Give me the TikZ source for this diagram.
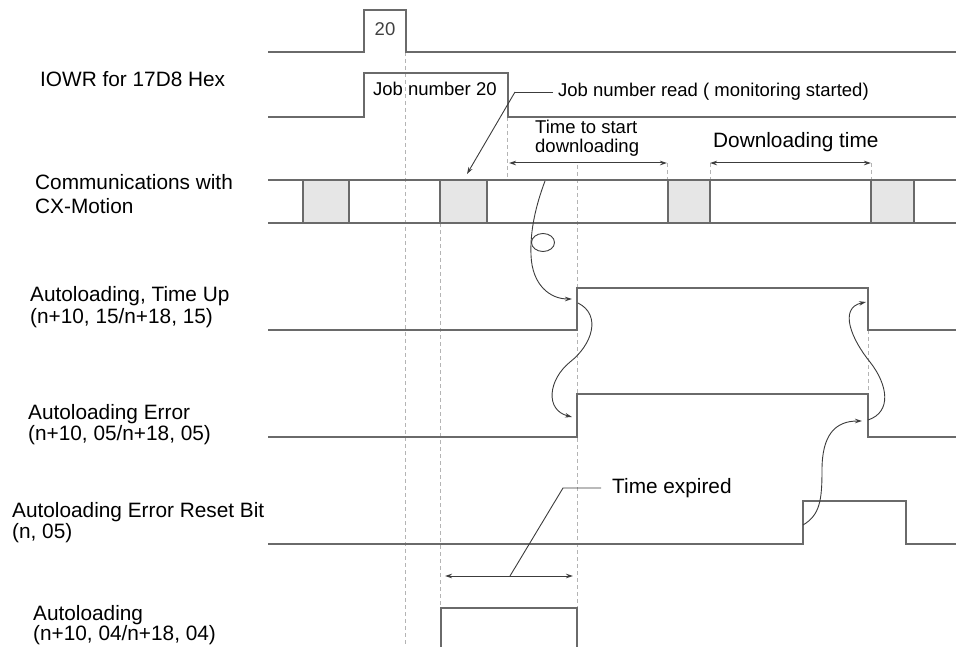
\documentclass[tikz,border=0pt]{standalone}
\usepackage{fontspec}
\setmainfont{Liberation Sans}
\usetikzlibrary{arrows.meta}
\definecolor{sigcol}{HTML}{6A6A6A}
\definecolor{boxfill}{HTML}{E6E6E6}
\definecolor{guidecol}{HTML}{B4B4B4}
\definecolor{arrcol}{HTML}{3C3C3C}
\tikzset{
  sig/.style={draw=sigcol, line width=1.4pt, line join=miter},
  guide/.style={draw=guidecol, line width=0.8pt, dash pattern=on 4pt off 3pt},
  cause/.style={draw=arrcol, line width=0.9pt, -{Stealth[length=7pt,width=4.5pt]}},
  dimline/.style={draw=arrcol, line width=1pt, {Stealth[length=7pt,width=4.5pt]}-{Stealth[length=7pt,width=4.5pt]}},
  leader/.style={draw=arrcol, line width=0.9pt},
  lbl/.style={anchor=base west, inner sep=0pt, font=\fontsize{20.8}{24}\selectfont},
  smalllbl/.style={anchor=base west, inner sep=0pt, font=\fontsize{18.5}{22}\selectfont}
}
\begin{document}
\begin{tikzpicture}[x=1pt, y=-1pt]
\useasboundingbox (0,0) rectangle (956,647);

% ---------- guide (dashed) lines ----------
\draw[guide] (405,52) -- (405,647);
\draw[guide] (507,117) -- (507,180);
\draw[guide] (577,165) -- (577,647);
\draw[guide] (440,223) -- (440,647);
\draw[guide] (667,163) -- (667,180);
\draw[guide] (710,163) -- (710,180);
\draw[guide] (871,163) -- (871,180);
\draw[guide] (868,330) -- (868,394);

% ---------- communication row ----------
\fill[boxfill] (303,180) rectangle (349,223);
\fill[boxfill] (440,180) rectangle (487,223);
\fill[boxfill] (668,180) rectangle (710,223);
\fill[boxfill] (871,180) rectangle (914,223);
\draw[sig] (268,180) -- (956,180);
\draw[sig] (268,223) -- (956,223);
\foreach \xx in {303,349,440,487,668,710,871,914}
  \draw[sig] (\xx,180) -- (\xx,223);

% ---------- signals ----------
\draw[sig] (268,52) -- (364,52) -- (364,10) -- (406,10) -- (406,52) -- (956,52);
\draw[sig] (268,117) -- (364,117) -- (364,73) -- (508,73) -- (508,117) -- (956,117);
\draw[sig] (268,330) -- (577,330) -- (577,288) -- (868,288) -- (868,330) -- (956,330);
\draw[sig] (268,437) -- (577,437) -- (577,394) -- (868,394) -- (868,437) -- (956,437);
\draw[sig] (268,544) -- (803,544) -- (803,501) -- (906,501) -- (906,544) -- (956,544);
\draw[sig] (441,647) -- (441,608) -- (577,608) -- (577,647);

% ---------- texts ----------
\node[smalllbl, anchor=base, text=black!75] (v20) at (385,36) {20};
\node[lbl] (l1) at (40,87) {IOWR for 17D8 Hex};
\node[smalllbl] (job20) at (373,96) {Job number 20};
\node[smalllbl] (jobread) at (558,97) {Job number read ( monitoring started)};
\node[smalllbl] (tts1) at (535,134) {Time to start};
\node[smalllbl] (tts2) at (535,153) {downloading};
\node[lbl] (dlt) at (713,148) {Downloading time};
\node[lbl] (l2a) at (35,190) {Communications with};
\node[lbl] (l2b) at (35,214) {CX-Motion};
\node[lbl] (l3a) at (30,301) {Autoloading, Time Up};
\node[lbl] (l3b) at (30,323) {(n+10, 15/n+18, 15)};
\node[lbl] (l4a) at (28,419) {Autoloading Error};
\node[lbl] (l4b) at (28,440) {(n+10, 05/n+18, 05)};
\node[lbl] (l5a) at (12,517) {Autoloading Error Reset Bit};
\node[lbl] (l5b) at (12,538) {(n, 05)};
\node[lbl] (l6a) at (33,620) {Autoloading};
\node[lbl] (l6b) at (33,640) {(n+10, 04/n+18, 04)};
\node[lbl] (texp) at (612,493) {Time expired};

% ---------- leader lines ----------
\coordinate (jrA) at (553,92);
\coordinate (jrB) at (515,92);
\coordinate (jrC) at (467,174);
\draw[leader] (jrA) -- (jrB);
\draw[cause] (jrB) -- (jrC);

\coordinate (teA) at (601,488);
\coordinate (teB) at (563,488);
\coordinate (teC) at (510,576);
\draw[leader] (teA) -- (teB) -- (teC);

% ---------- dimension arrows ----------
\coordinate (d1a) at (509,163);
\coordinate (d1b) at (667,163);
\coordinate (d2a) at (710,163);
\coordinate (d2b) at (871,163);
\coordinate (d3a) at (445,576);
\coordinate (d3b) at (573,576);
\draw[dimline] (d1a) -- (d1b);
\draw[dimline] (d2a) -- (d2b);
\draw[dimline] (d3a) -- (d3b);

% ---------- causal curves ----------
\coordinate (c1s) at (545,181);
\coordinate (c1e) at (572,299);
\draw[cause] (c1s) .. controls (536,205) and (530,230) .. (531,255)
                   .. controls (532,285) and (550,299) .. (c1e);
\draw[arrcol, line width=0.9pt] (543,242.5) ellipse [x radius=11.5, y radius=9];

\coordinate (c2s) at (578,303);
\coordinate (c2e) at (572,417);
\draw[cause] (c2s) .. controls (602,315) and (592,345) .. (570,362)
                   .. controls (548,380) and (545,410) .. (c2e);

\coordinate (c3s) at (868,420);
\coordinate (c3e) at (866,302);
\draw[cause] (c3s) .. controls (892,412) and (888,385) .. (870,362)
                   .. controls (852,340) and (838,308) .. (c3e);

\coordinate (c4s) at (803,525);
\coordinate (c4e) at (862,421);
\draw[cause] (c4s) .. controls (820,515) and (822,500) .. (822,470)
                   .. controls (822,435) and (835,421) .. (c4e);
\end{tikzpicture}
\end{document}
